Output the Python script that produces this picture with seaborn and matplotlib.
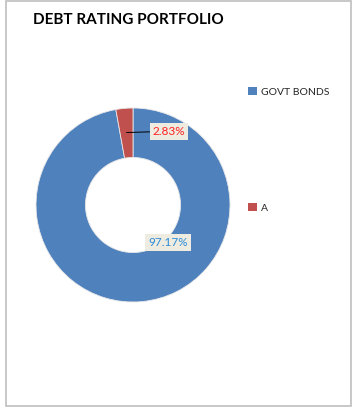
import matplotlib
matplotlib.use("Agg")
import matplotlib.pyplot as plt
import seaborn as sns
import numpy as np
from matplotlib.patches import Rectangle, Patch

sns.set_theme(style="white")
plt.rcParams['font.family'] = ['Lato', 'DejaVu Sans']

categories = ["GOVT BONDS", "A"]
values = [97.17, 2.83]
colors = ["#4F81BD", "#C0504D"]
label_colors = ["#2E8BD8", "#FF2020"]
title = "DEBT RATING PORTFOLIO"

W, H = 352, 413
fig = plt.figure(figsize=(W / 100, H / 100), dpi=100)
fig.patch.set_facecolor("white")

# border
fig.patches.append(Rectangle((6 / W, 1 - 406 / H), (351 - 6) / W, (406 - 1) / H,
                             transform=fig.transFigure, fill=False,
                             edgecolor="#BFBFBF", linewidth=1.2))

cx, cy, r = 133, 205, 97
ax = fig.add_axes([(cx - r) / W, 1 - (cy + r) / H, 2 * r / W, 2 * r / H])
wedges, _ = ax.pie(values, colors=colors, startangle=90, counterclock=False,
                   radius=1.0, wedgeprops=dict(width=0.51, edgecolor="#E8E8E8", linewidth=0.6))
ax.set_xlim(-1, 1)
ax.set_ylim(-1, 1)
ax.set_aspect("equal")
ax.axis("off")

bbox = dict(boxstyle="square,pad=0.25", facecolor="#EEECE1", edgecolor="none")
# small slice label with leader
w = wedges[1]
ang = np.deg2rad((w.theta1 + w.theta2) / 2)
rm = 0.75
px, py = rm * np.cos(ang), rm * np.sin(ang)
ax.annotate(f"{values[1]:.2f}%", xy=(px, py), xytext=(0.37, 0.76),
            ha="center", va="center", fontsize=8.5, color=label_colors[1],
            bbox=bbox, arrowprops=dict(arrowstyle="-", color="black", lw=0.7,
                                       shrinkA=0, shrinkB=0))
ax.text(0.36, -0.39, f"{values[0]:.2f}%", ha="center", va="center",
        fontsize=8.5, color=label_colors[0], bbox=bbox)

fig.text(33 / W, 1 - 20 / H, title, fontsize=11, fontweight="bold",
         ha="left", va="center", color="black")

handles = [Patch(facecolor=c, edgecolor="none") for c in colors]
leg = fig.legend(handles, categories, loc="upper left",
                 bbox_to_anchor=(243 / W, 1 - 82 / H), frameon=False,
                 fontsize=7.5, handlelength=0.8, handleheight=0.8,
                 handletextpad=0.4, labelspacing=10.2, borderpad=0)

fig.savefig("out.png", dpi=100, facecolor="white")
